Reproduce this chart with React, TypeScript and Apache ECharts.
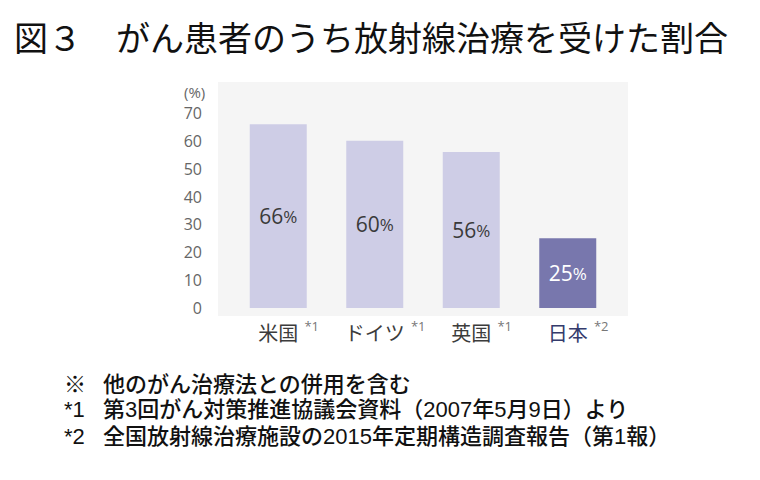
import React, { useEffect, useRef } from "react";
import * as echarts from "echarts";

const categories = ["米国", "ドイツ", "英国", "日本"];
const sourceMarks = ["*1", "*1", "*1", "*2"];
const values = [66, 60, 56, 25];
const highlightIndex = 3;
const yMin = 0;
const yMax = 70;
const yInterval = 10;
const titleText = "図３　がん患者のうち放射線治療を受けた割合";
const unitText = "(%)";
const noteMarks = ["※", "*1", "*2"];
const noteTexts = [
  "他のがん治療法との併用を含む",
  "第3回がん対策推進協議会資料（2007年5月9日）より",
  "全国放射線治療施設の2015年定期構造調査報告（第1報）",
];

const CJK = '"Noto Sans CJK JP", "Noto Sans", sans-serif';
const NOTE = '"Liberation Sans", "Noto Sans CJK JP", sans-serif';
const LATIN = '"Open Sans", "Noto Sans", sans-serif';

export default function App() {
  const ref = useRef<HTMLDivElement>(null);
  useEffect(() => {
    document.body.style.margin = "0";
    const chart = echarts.init(ref.current!, null, { renderer: "svg" });
    const light = "#cecde6";
    const dark = "#7877ad";
    const noteTop = [372, 397, 424];
    const graphics: any[] = [
      {
        type: "rect",
        z: 0,
        shape: { x: 218, y: 82, width: 410, height: 234 },
        style: { fill: "#f5f5f5" },
        silent: true,
      },
      {
        type: "text",
        left: 14,
        top: 19,
        style: {
          text: titleText,
          font: `400 34px ${CJK}`,
          fill: "#111",
        },
      },
      {
        type: "text",
        left: 184,
        top: 84,
        style: { text: unitText, font: `15px ${LATIN}`, fill: "#666" },
      },
    ];
    noteMarks.forEach((m, i) => {
      graphics.push({
        type: "text",
        left: 64,
        top: noteTop[i],
        style: { text: m, font: `500 22px ${NOTE}`, fill: "#111", lineHeight: 24 },
      });
      graphics.push({
        type: "text",
        left: 103,
        top: noteTop[i],
        style: { text: noteTexts[i], font: `500 22px ${NOTE}`, fill: "#111", lineHeight: 24 },
      });
    });

    chart.setOption({
      animation: false,
      backgroundColor: "#ffffff",
      graphic: graphics,
      grid: { left: 230, right: 144, top: 113, bottom: 172 },
      xAxis: {
        type: "category",
        data: categories,
        axisLine: { show: false },
        axisTick: { show: false },
        axisLabel: {
          margin: 11,
          interval: 0,
          formatter: (v: string, i: number) =>
            `{pad|}{${i === highlightIndex ? "mh" : "m"}|${v}}{s|${sourceMarks[i]}}`,
          rich: {
            pad: { width: 21, fontSize: 20, lineHeight: 24 },
            m: { fontSize: 20, color: "#3c3c3c", fontFamily: CJK, lineHeight: 24 },
            mh: { fontSize: 20, color: "#343b6c", fontFamily: CJK, lineHeight: 24 },
            s: {
              fontSize: 13,
              color: "#777",
              fontFamily: LATIN,
              padding: [0, 0, 14, 6],
              width: 15,
            },
          },
        },
      },
      yAxis: {
        type: "value",
        min: yMin,
        max: yMax,
        interval: yInterval,
        axisLine: { show: false },
        axisTick: { show: false },
        splitLine: { show: false },
        axisLabel: {
          margin: 28,
          fontSize: 16,
          color: "#666",
          fontFamily: LATIN,
        },
      },
      series: [
        {
          type: "bar",
          z: 2,
          barWidth: 57,
          data: values.map((v, i) => ({
            value: v,
            itemStyle: { color: i === highlightIndex ? dark : light },
            label: {
              rich: {
                n: {
                  fontSize: 21,
                  fontFamily: LATIN,
                  color: i === highlightIndex ? "#ffffff" : "#3a3a3a",
                },
                p: {
                  fontSize: 17,
                  fontFamily: LATIN,
                  color: i === highlightIndex ? "#ffffff" : "#3a3a3a",
                },
              },
            },
          })),
          label: {
            show: true,
            position: "inside",
            formatter: (p: any) => `{n|${p.value}}{p|%}`,
          },
        },
      ],
    });
    return () => chart.dispose();
  }, []);
  return <div ref={ref} style={{ width: 760, height: 480 }} />;
}
